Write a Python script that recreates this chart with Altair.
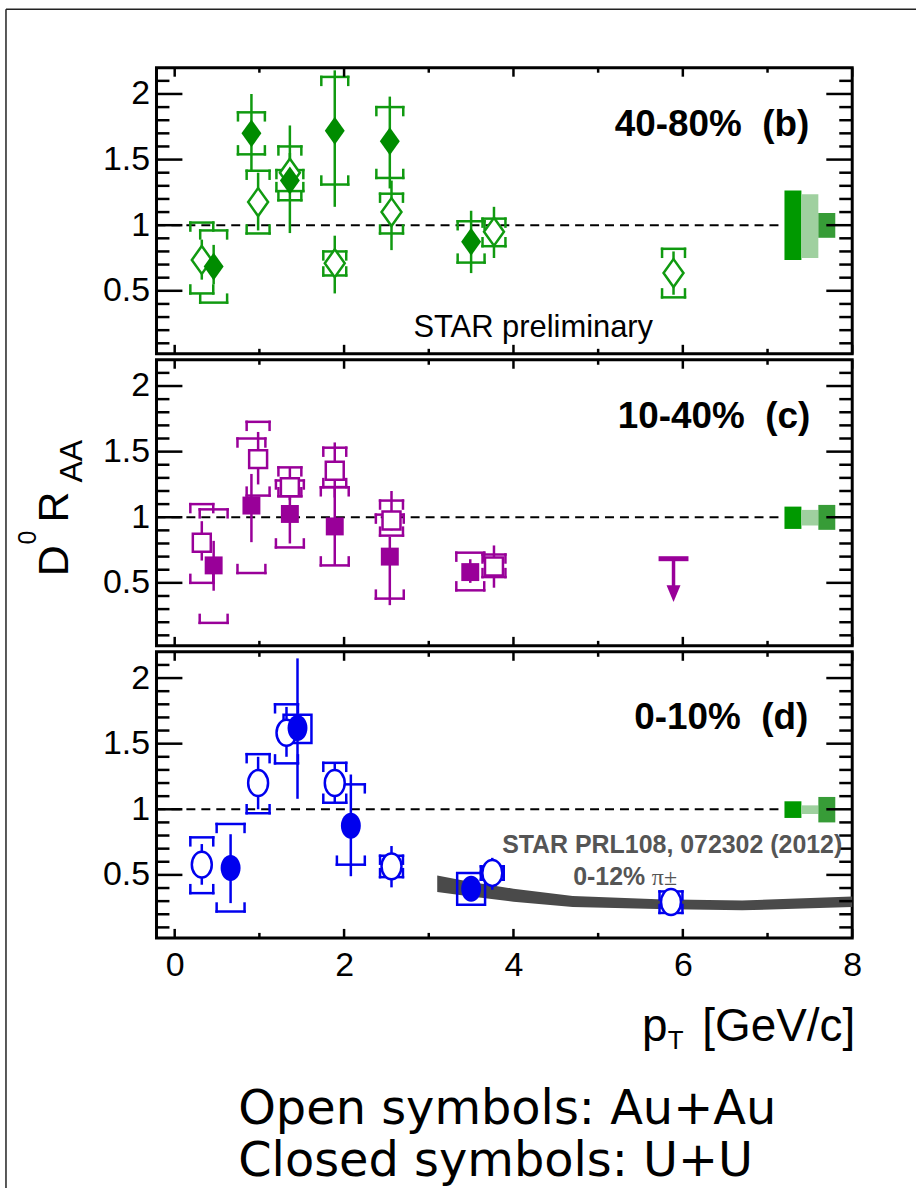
import altair as alt
import pandas as pd

XDOM = [-0.215, 8.0]
YDOM = [0.02, 2.2]
W, H = 698, 287

GREEN = "#109a10"
PURPLE = "#990099"
BLUE = "#0000ee"

# ---------------- panel (b) 40-80% ----------------
b_au_x = [0.32, 0.985, 1.36, 1.89, 2.56, 3.77, 5.89]
b_au_y = [0.735, 1.176, 1.40, 0.71, 1.10, 0.95, 0.635]
b_au_stat_lo = [0.585, 0.96, 1.25, 0.48, 0.81, 0.75, 0.47]
b_au_stat_hi = [0.89, 1.40, 1.55, 0.92, 1.34, 1.14, 0.80]
b_au_sys_lo = [0.48, 0.937, 1.19, 0.617, 0.937, 0.84, 0.45]
b_au_sys_hi = [1.02, 1.415, 1.60, 0.80, 1.24, 1.05, 0.82]

b_uu_x = [0.46, 0.906, 1.36, 1.89, 2.54, 3.50]
b_uu_y = [0.685, 1.70, 1.34, 1.72, 1.64, 0.874]
b_uu_stat_lo = [0.55, 1.42, 0.94, 1.14, 1.28, 0.635]
b_uu_stat_hi = [0.85, 2.00, 1.76, 2.18, 1.98, 1.11]
b_uu_sys_lo = [0.41, 1.54, 1.26, 1.31, 1.36, 0.715]
b_uu_sys_hi = [0.96, 1.86, 1.42, 2.13, 1.90, 1.03]

# ---------------- panel (c) 10-40% ----------------
c_au_x = [0.32, 0.985, 1.36, 1.89, 2.56, 3.77]
c_au_y = [0.805, 1.443, 1.228, 1.354, 0.975, 0.625]
c_au_stat_lo = [0.67, 1.25, 1.13, 1.15, 0.90, 0.463]
c_au_stat_hi = [0.97, 1.65, 1.38, 1.57, 1.20, 0.785]
c_au_sys_lo = [0.50, 1.165, 1.16, 1.23, 0.86, 0.544]
c_au_sys_hi = [1.10, 1.727, 1.38, 1.53, 1.127, 0.716]

c_uu_x = [0.46, 0.906, 1.36, 1.89, 2.54, 3.49]
c_uu_y = [0.633, 1.089, 1.025, 0.93, 0.70, 0.582]
c_uu_stat_lo = [0.44, 0.81, 0.80, 0.63, 0.33, 0.50]
c_uu_stat_hi = [0.82, 1.33, 1.25, 1.23, 0.85, 0.68]
c_uu_sys_lo = [0.195, 0.575, 0.77, 0.633, 0.38, 0.443]
c_uu_sys_hi = [1.06, 1.60, 1.28, 1.228, 1.02, 0.73]

c_limit_x = [5.89]
c_limit_y = [0.684]
c_limit_tip = [0.355]

# ---------------- panel (d) 0-10% ----------------
d_au_x = [0.32, 0.985, 1.32, 1.89, 2.56, 3.75, 5.86]
d_au_y = [0.578, 1.20, 1.583, 1.20, 0.565, 0.515, 0.293]
d_au_stat_lo = [0.425, 1.0, 1.40, 1.05, 0.405, 0.387, 0.25]
d_au_stat_hi = [0.735, 1.40, 1.78, 1.35, 0.72, 0.63, 0.34]
d_au_sys_lo = [0.361, 0.97, 1.35, 1.05, 0.483, 0.463, 0.21]
d_au_sys_hi = [0.786, 1.42, 1.80, 1.354, 0.646, 0.565, 0.374]

d_uu_x = [0.66, 1.45, 2.08, 3.50]
d_uu_y = [0.552, 1.62, 0.875, 0.394]
d_uu_stat_lo = [0.285, 1.08, 0.49, 0.35]
d_uu_stat_hi = [0.81, 2.15, 1.265, 0.44]
d_uu_sys_lo = [0.221, 1.506, 0.578, 0.273]
d_uu_sys_hi = [0.888, 1.72, 1.19, 0.515]
d_uu_sys_style = ["bracket", "box", "bracket", "box"]

# charged pion RAA band (0-12%)
pi_x = [3.1, 3.5, 4.0, 4.7, 5.7, 6.7, 8.0]
pi_lo = [0.37, 0.335, 0.295, 0.255, 0.24, 0.23, 0.255]
pi_hi = [0.495, 0.445, 0.395, 0.34, 0.315, 0.305, 0.335]

# global normalisation boxes
gb_x0 = [7.2, 7.4, 7.6]
gb_x1 = [7.4, 7.6, 7.8]
gb_col = ["#009900", "#9fd09f", "#379c37"]
b_gb_lo = [0.735, 0.75, 0.904]
b_gb_hi = [1.265, 1.235, 1.093]
c_gb_lo = [0.911, 0.937, 0.904]
c_gb_hi = [1.081, 1.056, 1.094]
d_gb_lo = [0.934, 0.964, 0.90]
d_gb_hi = [1.061, 1.03, 1.094]

# unity line
unity_x0 = [-0.215]
unity_x1 = [7.16]
unity_y = [1.0]

# frame ticks
ytick_major = [0.5, 1.0, 1.5, 2.0]
ytick_minor = [0.1, 0.2, 0.3, 0.4, 0.6, 0.7, 0.8, 0.9, 1.1, 1.2, 1.3, 1.4,
               1.6, 1.7, 1.8, 1.9, 2.1]
xtick_major = [0, 2, 4, 6, 8]
xtick_minor = [1, 3, 5, 7]
xlabels = [0, 2, 4, 6, 8]
ylabels = [0.5, 1, 1.5, 2]

DIAMOND = "M0,-1.4L1,0L0,1.4L-1,0Z"
SQUARE = "M-1,-1L1,-1L1,1L-1,1Z"
ELLIPSE = "M-1,0A1,1.3,0,1,0,1,0A1,1.3,0,1,0,-1,0Z"
ARROW = "M-1,-2.4L1,-2.4L0,0Z"

YAXIS = alt.Axis(values=ylabels, labelExpr="'' + datum.value", labelFontSize=34,
                 labelFont="Liberation Sans", labelColor="black", labelPadding=7,
                 ticks=False, domain=False, grid=False, title="")
XAXIS = alt.Axis(values=xlabels, labelExpr="'' + datum.value", labelFontSize=34,
                 labelFont="Liberation Sans", labelColor="black", labelPadding=11,
                 ticks=False, tickSize=0, domain=False, grid=False, title="",
                 labelFlush=False)

VIEW = alt.ViewBackground(stroke="black", strokeWidth=3)


def X(field, xax):
    return alt.X(field, type="quantitative",
                 scale=alt.Scale(domain=XDOM, nice=False, zero=False), axis=xax)


def Y(field):
    return alt.Y(field, type="quantitative",
                 scale=alt.Scale(domain=YDOM, nice=False, zero=False), axis=YAXIS)


def pts(x, y, slo, shi, ylo, yhi):
    return pd.DataFrame(dict(x=x, y=y, slo=slo, shi=shi, ylo=ylo, yhi=yhi))


def brackets(df, color, hw, xax, tick=8, sw=2.5):
    base = alt.Chart(df)
    out = []
    for fld, off in (("yhi", tick), ("ylo", -tick)):
        out.append(base.mark_rule(color=color, strokeWidth=sw, strokeCap="square",
                                  xOffset=-hw, x2Offset=hw)
                   .encode(x=X("x", xax), x2="x", y=Y(fld)))
        for side in (-hw, hw):
            out.append(base.mark_rule(color=color, strokeWidth=sw, strokeCap="square",
                                      xOffset=side, y2Offset=off)
                       .encode(x=X("x", xax), y=Y(fld), y2=fld))
    return out


def stat(df, color, xax, sw=2.5):
    return alt.Chart(df).mark_rule(color=color, strokeWidth=sw).encode(
        x=X("x", xax), y=Y("slo"), y2="shi")


def marker(df, color, shape, size, filled, xax):
    if filled:
        m = alt.Chart(df).mark_point(shape=shape, size=size, filled=True, color=color,
                                     opacity=1, strokeWidth=0)
    else:
        m = alt.Chart(df).mark_point(shape=shape, size=size, fill="white", stroke=color,
                                     strokeWidth=2.5, opacity=1, fillOpacity=1)
    return m.encode(x=X("x", xax), y=Y("y"))


def txt(s, x, y, size, weight="normal", align="left", color="black",
        font="Liberation Sans", angle=0):
    return alt.Chart(pd.DataFrame({"t": [s]})).mark_text(
        align=align, baseline="alphabetic", fontSize=size, fontWeight=weight,
        color=color, font=font, angle=angle).encode(
        text="t:N", x=alt.value(x), y=alt.value(y))


def frame_ticks(xax):
    out = []
    for vals, ln in ((ytick_major, 26), (ytick_minor, 13)):
        d = alt.Chart(pd.DataFrame({"v": vals}))
        out.append(d.mark_rule(color="black", strokeWidth=2.5).encode(
            y=Y("v"), x=alt.value(0), x2=alt.value(ln)))
        out.append(d.mark_rule(color="black", strokeWidth=2.5).encode(
            y=Y("v"), x=alt.value(W - ln), x2=alt.value(W)))
    for vals, ln in ((xtick_major, 9), (xtick_minor, 5)):
        d = alt.Chart(pd.DataFrame({"v": vals}))
        out.append(d.mark_rule(color="black", strokeWidth=2.5).encode(
            x=X("v", xax), y=alt.value(0), y2=alt.value(ln)))
        out.append(d.mark_rule(color="black", strokeWidth=2.5).encode(
            x=X("v", xax), y=alt.value(H - ln), y2=alt.value(H)))
    return out


def common_bg(gb_lo, gb_hi, xax):
    gdf = pd.DataFrame(dict(x0=gb_x0, x1=gb_x1, lo=gb_lo, hi=gb_hi, c=gb_col))
    boxes = alt.Chart(gdf).mark_rect().encode(
        x=X("x0", xax), x2="x1", y=Y("lo"), y2="hi",
        color=alt.Color("c:N", scale=None))
    udf = pd.DataFrame(dict(x0=unity_x0, x1=unity_x1, y=unity_y))
    unity = alt.Chart(udf).mark_rule(color="black", strokeWidth=2,
                                     strokeDash=[9, 6]).encode(
        x=X("x0", xax), x2="x1", y=Y("y"))
    return [unity, boxes]


# ---------- panel b ----------
xb = None
au = pts(b_au_x, b_au_y, b_au_stat_lo, b_au_stat_hi, b_au_sys_lo, b_au_sys_hi)
uu = pts(b_uu_x, b_uu_y, b_uu_stat_lo, b_uu_stat_hi, b_uu_sys_lo, b_uu_sys_hi)
layers_b = common_bg(b_gb_lo, b_gb_hi, xb)
layers_b += brackets(au, GREEN, 11.5, xb) + brackets(uu, GREEN, 13.5, xb)
layers_b += [stat(au, GREEN, xb), stat(uu, GREEN, xb)]
layers_b += [marker(au, GREEN, DIAMOND, 400, False, xb),
             marker(uu, "#008c00", DIAMOND, 400, True, xb)]
layers_b += frame_ticks(xb)
layers_b += [
    txt("40-80%\u00a0\u00a0(b)", 655, 68, 37, weight="bold", align="right"),
    txt("STAR preliminary", 378, 270, 31, align="center"),
    # outer frame of the figure
    alt.Chart(pd.DataFrame({"a": [0]})).mark_rule(color="#222222", strokeWidth=1.5).encode(
        x=alt.value(-151), x2=alt.value(762), y=alt.value(-58.75)),
    alt.Chart(pd.DataFrame({"a": [0]})).mark_rule(color="#222222", strokeWidth=1.5).encode(
        x=alt.value(-151), y=alt.value(-58.75), y2=alt.value(1124)),
]
panel_b = alt.layer(*layers_b).properties(width=W, height=H, view=VIEW)

# ---------- panel c ----------
xc = None
au = pts(c_au_x, c_au_y, c_au_stat_lo, c_au_stat_hi, c_au_sys_lo, c_au_sys_hi)
uu = pts(c_uu_x, c_uu_y, c_uu_stat_lo, c_uu_stat_hi, c_uu_sys_lo, c_uu_sys_hi)
lim = pd.DataFrame(dict(x=c_limit_x, y=c_limit_y, tip=c_limit_tip))
layers_c = common_bg(c_gb_lo, c_gb_hi, xc)
layers_c += brackets(au, PURPLE, 11.5, xc) + brackets(uu, PURPLE, 14, xc)
layers_c += [stat(au, PURPLE, xc), stat(uu, PURPLE, xc)]
layers_c += [marker(au, PURPLE, SQUARE, 324, False, xc),
             marker(uu, PURPLE, SQUARE, 324, True, xc)]
layers_c += [
    alt.Chart(lim).mark_rule(color=PURPLE, strokeWidth=5, xOffset=-15, x2Offset=15).encode(
        x=X("x", xc), x2="x", y=Y("y")),
    alt.Chart(lim).mark_rule(color=PURPLE, strokeWidth=3.5, y2Offset=-14).encode(
        x=X("x", xc), y=Y("y"), y2="tip"),
    alt.Chart(lim).mark_point(shape=ARROW, size=196, filled=True,
                              color=PURPLE, opacity=1, strokeWidth=0).encode(
        x=X("x", xc), y=Y("tip")),
]
layers_c += frame_ticks(xc)
layers_c += [
    txt("10-40%\u00a0\u00a0(c)", 656, 68, 37, weight="bold", align="right"),
    # y-axis title  D^0 R_AA
    txt("D", -88.75, 217.25, 43, angle=270),
    txt("0", -120.75, 185.25, 25, angle=270),
    txt("R", -88.75, 163.25, 43, angle=270),
    txt("AA", -74.75, 123.25, 32, angle=270),
]
panel_c = alt.layer(*layers_c).properties(width=W, height=H, view=VIEW)

# ---------- panel d ----------
xd = XAXIS
au = pts(d_au_x, d_au_y, d_au_stat_lo, d_au_stat_hi, d_au_sys_lo, d_au_sys_hi)
uu = pts(d_uu_x, d_uu_y, d_uu_stat_lo, d_uu_stat_hi, d_uu_sys_lo, d_uu_sys_hi)
uu["style"] = d_uu_sys_style
uu_br = uu[uu["style"] == "bracket"]
uu_bx = uu[uu["style"] == "box"]
band = pd.DataFrame(dict(x=pi_x, lo=pi_lo, hi=pi_hi))
layers_d = common_bg(d_gb_lo, d_gb_hi, xd)
layers_d += [alt.Chart(band).mark_area(color="#4a4a4a", opacity=1).encode(
    x=X("x", xd), y=Y("lo"), y2="hi")]
layers_d += brackets(au, BLUE, 11.5, xd) + brackets(uu_br, BLUE, 14, xd)
layers_d += [alt.Chart(uu_bx).mark_rect(filled=False, color=BLUE, strokeWidth=2.5,
                                        xOffset=-14, x2Offset=14, opacity=1).encode(
    x=X("x", xd), x2="x", y=Y("yhi"), y2="ylo")]
layers_d += [stat(au, BLUE, xd), stat(uu, BLUE, xd)]
layers_d += [marker(au, BLUE, ELLIPSE, 400, False, xd),
             marker(uu, BLUE, ELLIPSE, 400, True, xd)]
layers_d += frame_ticks(xd)
layers_d += [
    txt("0-10%\u00a0\u00a0(d)", 654, 77, 37, weight="bold", align="right"),
    txt("STAR PRL108, 072302 (2012)", 688, 202, 25, weight="bold", align="right",
        color="#555555"),
    txt("0-12%", 418, 234, 25, weight="bold", color="#555555"),
    txt("\u03c0\u00b1", 497, 234, 24, color="#555555", font="Liberation Serif"),
    # x-axis title  p_T [GeV/c]
    txt("p", 487, 390, 46),
    txt("T", 513, 398, 26),
    txt("[GeV/c]", 701, 390, 46, align="right"),
    # notes
    txt("Open symbols: Au+Au", 82, 474, 48, font="DejaVu Sans"),
    txt("Closed symbols: U+U", 82, 526, 48, font="DejaVu Sans"),
]
panel_d = alt.layer(*layers_d).properties(width=W, height=H, view=VIEW)

chart = alt.vconcat(panel_b, panel_c, panel_d, spacing=6, bounds="flush").properties(
    padding={"left": 3, "top": 5, "right": 0, "bottom": 0},
    background="white",
).configure_view(stroke="black", strokeWidth=3).configure(font="Liberation Sans")

chart.save("out.html", embed_options={"renderer": "svg", "actions": False})
